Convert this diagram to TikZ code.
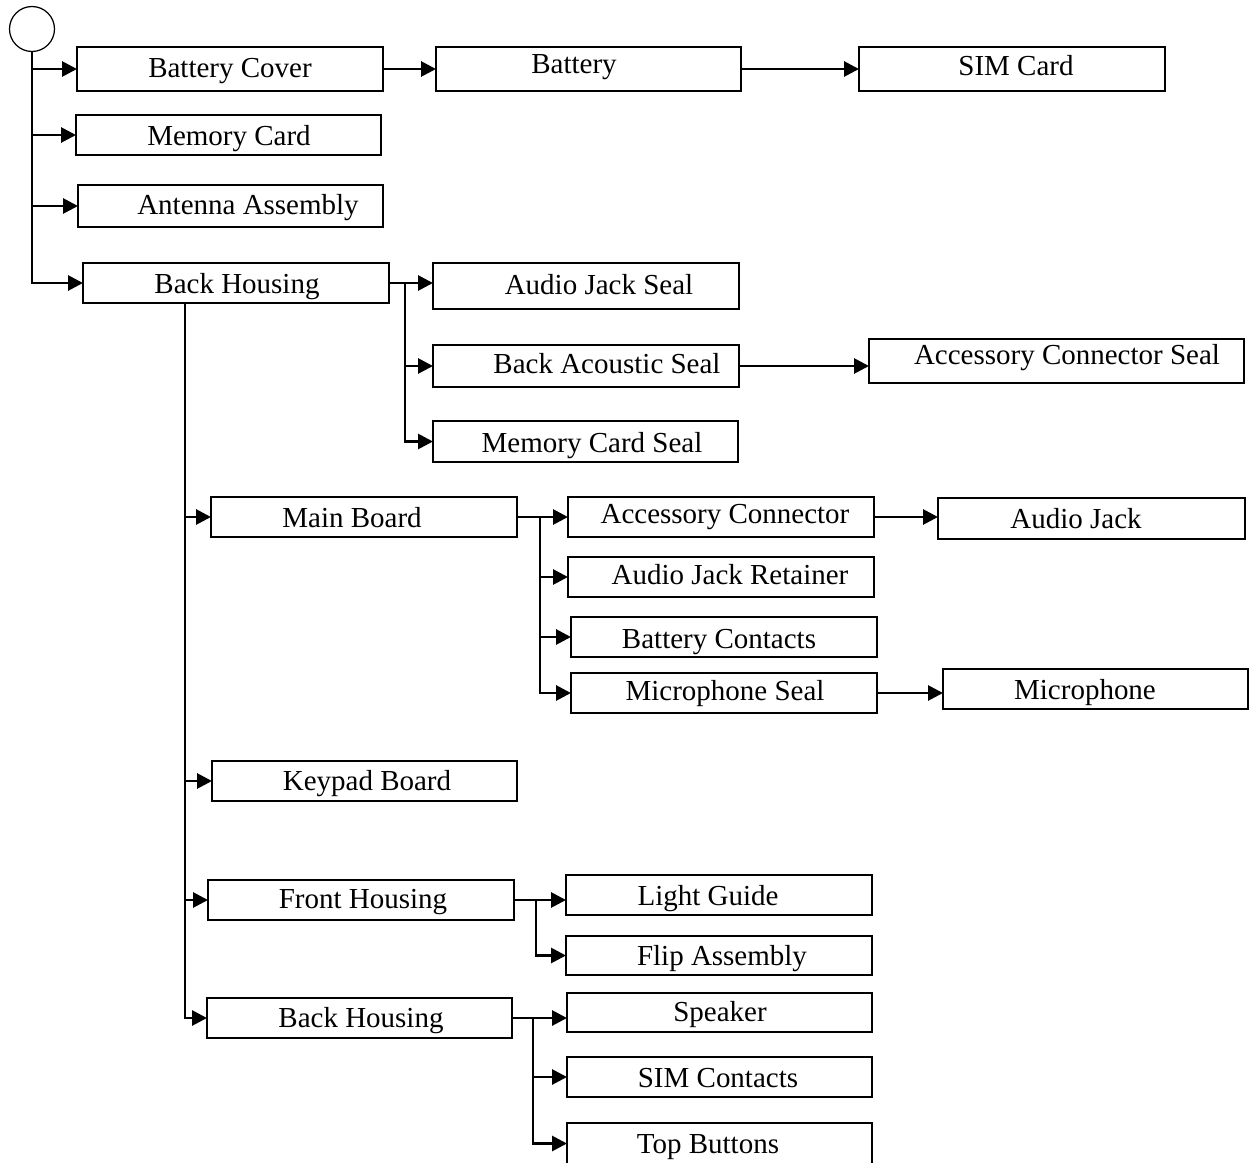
\documentclass[tikz,border=0pt]{standalone}
\usepackage{fontspec}
\setmainfont{Liberation Serif}
\usetikzlibrary{arrows.meta}

\tikzset{
  part/.style={draw, line width=1.6pt, inner sep=0pt, outer sep=0pt},
  ptext/.style={anchor=base, inner sep=0pt, font=\fontsize{16.5pt}{20pt}\selectfont},
  wire/.style={line width=1.6pt},
  link/.style={wire, -{Triangle[length=0.3cm,width=0.3cm]}},
  rootnode/.style={draw, circle, line width=0.7pt, inner sep=0pt, minimum size=0.9cm}
}

% #1 name, #2 left, #3 top, #4 right, #5 bottom, #6 text x, #7 text baseline, #8 text
\newcommand\partbox[8]{%
  \node[part, minimum width={(#4-#2)*0.02cm}, minimum height={(#5-#3)*0.02cm}]
    (#1) at ({(#2+#4)/2},{(#3+#5)/2}) {};
  \node[ptext] (#1-text) at (#6,#7) {#8};
}

\begin{document}
\begin{tikzpicture}[x=0.02cm, y=-0.02cm]
\useasboundingbox (0,0) rectangle (1249,1163);
\clip (0,0) rectangle (1249,1163);

\node[rootnode] (root) at (32,29) {};

% first level
\partbox{bcover}{77}{47}{383}{91}{230}{77}{Battery Cover}
\partbox{mcard}{76}{115}{381}{155}{229}{145}{Memory Card}
\partbox{antenna}{78}{185}{383}{227}{248}{214}{Antenna Assembly}
\partbox{bhousing}{83}{263}{389}{303}{237}{293}{Back Housing}

\partbox{battery}{436}{47}{741}{91}{574}{73}{Battery}
\partbox{sim}{859}{47}{1165}{91}{1016}{75}{SIM Card}

% back housing seals
\partbox{ajseal}{433}{263}{739}{309}{599}{294}{Audio Jack Seal}
\partbox{baseal}{433}{345}{739}{387}{607}{373}{Back Acoustic Seal}
\partbox{mcseal}{433}{421}{738}{462}{592}{452}{Memory Card Seal}
\partbox{acseal}{869}{339}{1244}{383}{1067}{364}{Accessory Connector Seal}

% boards and housings
\partbox{mainboard}{211}{497}{517}{537}{352}{527}{Main Board}
\partbox{keypad}{212}{761}{517}{801}{367}{790}{Keypad Board}
\partbox{fhousing}{208}{880}{514}{920}{363}{908}{Front Housing}
\partbox{bhousingb}{207}{998}{512}{1038}{361}{1027}{Back Housing}

% main board parts
\partbox{accconn}{568}{497}{874}{537}{725}{523}{Accessory Connector}
\partbox{ajret}{568}{557}{874}{597}{730}{584}{Audio Jack Retainer}
\partbox{bcontacts}{571}{617}{877}{657}{719}{648}{Battery Contacts}
\partbox{micseal}{571}{673}{877}{713}{725}{700}{Microphone Seal}
\partbox{ajack}{938}{498}{1245}{539}{1076}{528}{Audio Jack}
\partbox{mic}{943}{669}{1248}{709}{1085}{699}{Microphone}

% front housing parts
\partbox{lguide}{566}{875}{872}{915}{708}{905}{Light Guide}
\partbox{flip}{566}{936}{872}{975}{722}{965}{Flip Assembly}

% back housing parts
\partbox{speaker}{567}{993}{872}{1032}{720}{1021}{Speaker}
\partbox{simcont}{567}{1057}{872}{1097}{718}{1087}{SIM Contacts}
\partbox{topbtn}{567}{1123}{872}{1164}{708}{1153}{Top Buttons}

% junction points of the branch lines
\coordinate (jbh) at (405,283);
\coordinate (jtrunk) at (185,303);
\coordinate (jmb) at (540,517);
\coordinate (jfh) at (536,900);
\coordinate (jbh2) at (533,1018);

% root trunk
\draw[link] (root.south) |- (bcover.west);
\draw[link] (root.south) |- (mcard.west);
\draw[link] (root.south) |- (antenna.west);
\draw[link] (root.south) |- (bhousing.west);

\draw[link] (bcover.east) -- (battery.west |- bcover.east);
\draw[link] (battery.east) -- (sim.west |- battery.east);

% back housing seals
\draw[link] (bhousing.east) -- (ajseal.west |- bhousing.east);
\draw[link] (jbh) |- (baseal.west);
\draw[link] (jbh) |- (mcseal.west);
\draw[link] (baseal.east) -- (acseal.west |- baseal.east);

% trunk under the back housing
\draw[link] (jtrunk) |- (mainboard.west);
\draw[link] (jtrunk) |- (keypad.west);
\draw[link] (jtrunk) |- (fhousing.west);
\draw[link] (jtrunk) |- (bhousingb.west);

% main board parts
\draw[link] (mainboard.east) -- (accconn.west |- mainboard.east);
\draw[link] (jmb) |- (ajret.west);
\draw[link] (jmb) |- (bcontacts.west);
\draw[link] (jmb) |- (micseal.west);
\draw[link] (accconn.east) -- (ajack.west |- accconn.east);
\draw[link] (micseal.east) -- (mic.west |- micseal.east);

% front housing parts
\draw[link] (fhousing.east) -- (lguide.west |- fhousing.east);
\draw[link] (jfh) |- (flip.west);

% back housing parts
\draw[link] (bhousingb.east) -- (speaker.west |- bhousingb.east);
\draw[link] (jbh2) |- (simcont.west);
\draw[link] (jbh2) |- (topbtn.west);
\end{tikzpicture}
\end{document}
